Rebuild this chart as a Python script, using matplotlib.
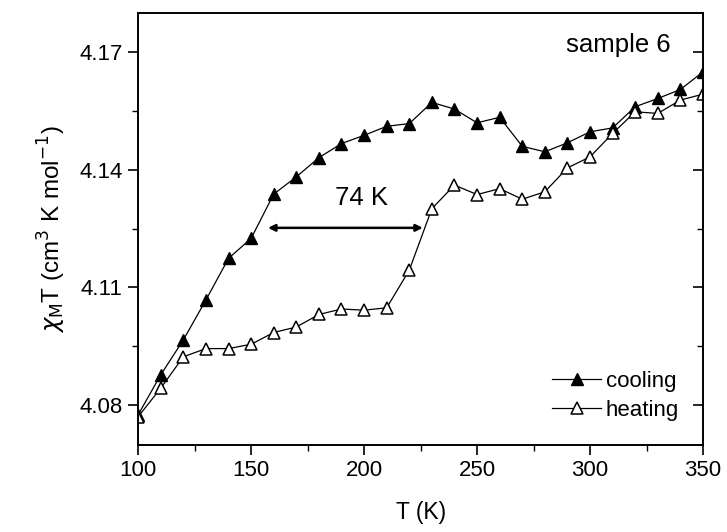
import matplotlib
matplotlib.use("Agg")
import matplotlib.pyplot as plt
from matplotlib.ticker import MultipleLocator

plt.rcParams['font.family'] = ['Liberation Sans', 'DejaVu Sans']
plt.rcParams['mathtext.fontset'] = 'dejavusans'

T = [100, 110, 120, 130, 140, 150, 160, 170, 180, 190, 200, 210, 220, 230,
     240, 250, 260, 270, 280, 290, 300, 310, 320, 330, 340, 350]
cooling = [4.0775, 4.0877, 4.0966, 4.1068, 4.1174, 4.1225, 4.1338, 4.1382,
           4.1431, 4.1467, 4.1488, 4.1511, 4.1518, 4.1572, 4.1555, 4.1520,
           4.1534, 4.1460, 4.1446, 4.1469, 4.1497, 4.1507, 4.1561, 4.1582,
           4.1605, 4.1650]
heating = [4.0770, 4.0843, 4.0923, 4.0944, 4.0944, 4.0955, 4.0985, 4.0999,
           4.1031, 4.1045, 4.1042, 4.1048, 4.1144, 4.1301, 4.1361, 4.1337,
           4.1352, 4.1325, 4.1344, 4.1405, 4.1433, 4.1493, 4.1548, 4.1544,
           4.1578, 4.1593]

x_ticks = [100, 150, 200, 250, 300, 350]
y_ticks = [4.08, 4.11, 4.14, 4.17]
y_tick_labels = ['4.08', '4.11', '4.14', '4.17']

arrow_T = [157.5, 226.0]
arrow_y = 4.1252
gap_label = '74 K'

fig = plt.figure(figsize=(7.27, 5.32), dpi=100)
ax = fig.add_axes([0.190, 0.1635, 0.777, 0.812])

ax.plot(T, cooling, '-', color='black', lw=0.9, marker='^', ms=8,
        mfc='black', mec='black', label='cooling')
ax.plot(T, heating, '-', color='black', lw=0.9, marker='^', ms=8,
        mfc='white', mec='black', mew=1.1, label='heating')

ax.set_xlim(100, 350)
ax.set_ylim(4.0698, 4.180)
ax.set_xticks(x_ticks)
ax.set_yticks(y_ticks)
ax.set_yticklabels(y_tick_labels)
ax.xaxis.set_minor_locator(MultipleLocator(25))
ax.yaxis.set_minor_locator(MultipleLocator(0.015))

ax.tick_params(axis='both', which='major', labelsize=16, direction='out',
               length=7, width=1.2, pad=4)
ax.tick_params(axis='both', which='minor', direction='out', length=4, width=1.0)
ax.tick_params(axis='y', which='both', right=True)
# right-side ticks point inward
for t in ax.yaxis.get_major_ticks() + ax.yaxis.get_minor_ticks():
    t.tick2line.set_marker(matplotlib.lines.TICKLEFT)
for s in ax.spines.values():
    s.set_linewidth(1.4)

ax.set_xlabel('T (K)', fontsize=16.5, labelpad=14)
ax.set_ylabel('$\\chi_\\mathrm{M}$T (cm$^3$ K mol$^{-1}$)', fontsize=17.5, labelpad=8)

ax.annotate('', xy=(arrow_T[1], arrow_y), xytext=(arrow_T[0], arrow_y),
            arrowprops=dict(arrowstyle='<|-|>', color='black', lw=1.8,
                            mutation_scale=10, shrinkA=0, shrinkB=0))
ax.text(199, 4.1328, gap_label, fontsize=18.5, ha='center', va='center')
ax.text(335.5, 4.1718, 'sample 6', fontsize=18.5, ha='right', va='center')

leg = ax.legend(loc='lower right', frameon=False, fontsize=16,
                handlelength=2.2, handletextpad=0.2, labelspacing=0.35,
                borderaxespad=0.3, bbox_to_anchor=(0.985, 0.02))

fig.savefig('out.png', dpi=100)
